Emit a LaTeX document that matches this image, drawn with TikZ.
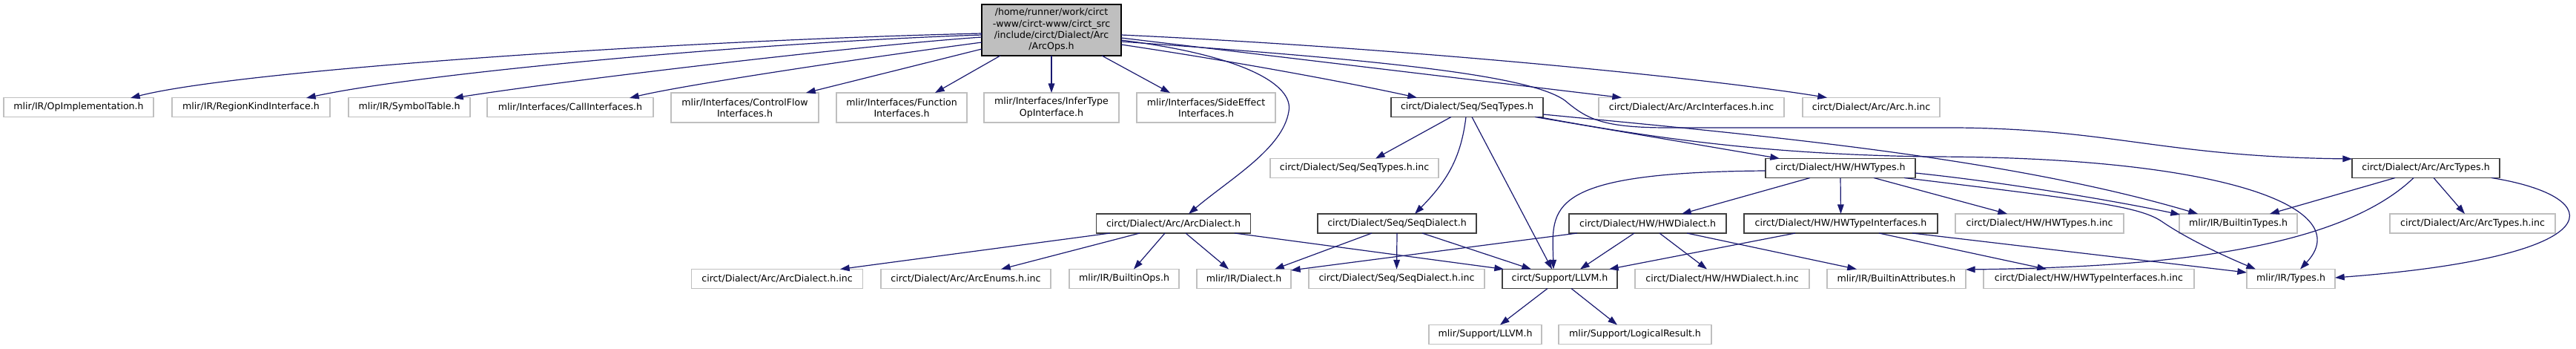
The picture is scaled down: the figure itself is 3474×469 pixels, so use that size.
\documentclass[tikz,border=0pt]{standalone}
\usepackage{fontspec}
\usetikzlibrary{arrows.meta,calc}
\newfontfamily\djfont{DejaVu Sans}
\definecolor{edgec}{HTML}{191970}
\definecolor{greyL}{HTML}{BFBFBF}
\definecolor{greyD}{HTML}{404040}
\tikzset{
  base/.style={draw, rectangle, inner sep=0pt, outer sep=0pt, line width=0.9pt,
    font=\djfont\fontsize{9.45}{11.5}\selectfont, align=center, minimum height=19.5pt},
  undoc/.style={base, draw=greyL, fill=white},
  docn/.style={base, draw=greyD, fill=white},
  mainnode/.style={base, draw=black, fill=greyL},
  bw/.style={minimum width=#1*0.75pt},
  bh/.style={minimum height=#1*0.75pt},
  dep/.style={draw=edgec, line width=0.9pt, -{Triangle[length=9.5pt,width=6.5pt]}},
}
\begin{document}
\begin{tikzpicture}[x=0.75pt,y=-0.75pt]
\useasboundingbox (0,0) rectangle (3474,469);
% main
\node[mainnode,bw=188,bh=69] (main) at (1418,40.5) {/home/runner/work/circt\\-www/circt-www/circt\_src\\/include/circt/Dialect/Arc\\/ArcOps.h};
% row 2
\node[undoc,bw=202] (opimpl) at (106,144.5) {mlir/IR/OpImplementation.h};
\node[undoc,bw=213] (regkind) at (338.5,144.5) {mlir/IR/RegionKindInterface.h};
\node[undoc,bw=164] (symtab) at (552,144.5) {mlir/IR/SymbolTable.h};
\node[undoc,bw=224] (callif) at (769,144.5) {mlir/Interfaces/CallInterfaces.h};
\node[undoc,bw=199,bh=40] (cflow) at (1004.5,145) {mlir/Interfaces/ControlFlow\\Interfaces.h};
\node[undoc,bw=176,bh=40] (funcif) at (1216,145) {mlir/Interfaces/Function\\Interfaces.h};
\node[undoc,bw=182,bh=40] (infer) at (1418,145) {mlir/Interfaces/InferType\\OpInterface.h};
\node[undoc,bw=187,bh=40] (sideeff) at (1626.5,145) {mlir/Interfaces/SideEffect\\Interfaces.h};
\node[docn,bw=205] (seqtypes) at (1978.5,144.5) {circt/Dialect/Seq/SeqTypes.h};
\node[undoc,bw=250] (arcintf) at (2281,144.5) {circt/Dialect/Arc/ArcInterfaces.h.inc};
\node[undoc,bw=185] (archinc) at (2523.5,144.5) {circt/Dialect/Arc/Arc.h.inc};
% row 3
\node[undoc,bw=227] (seqtinc) at (1826.5,226.5) {circt/Dialect/Seq/SeqTypes.h.inc};
\node[docn,bw=202] (hwtypes) at (2482,226.5) {circt/Dialect/HW/HWTypes.h};
\node[docn,bw=199] (arctypes) at (3271.5,226.5) {circt/Dialect/Arc/ArcTypes.h};
% row 4
\node[docn,bw=208] (arcdial) at (1582.5,301) {circt/Dialect/Arc/ArcDialect.h};
\node[docn,bw=214] (seqdial) at (1884,301) {circt/Dialect/Seq/SeqDialect.h};
\node[docn,bw=212] (hwdial) at (2222,301) {circt/Dialect/HW/HWDialect.h};
\node[docn,bw=261] (hwtif) at (2482.5,301) {circt/Dialect/HW/HWTypeInterfaces.h};
\node[undoc,bw=227] (hwtinc) at (2750.5,301) {circt/Dialect/HW/HWTypes.h.inc};
\node[undoc,bw=159] (btypes) at (3018.5,301) {mlir/IR/BuiltinTypes.h};
\node[undoc,bw=223] (arctinc) at (3334.5,301) {circt/Dialect/Arc/ArcTypes.h.inc};
% row 5
\node[undoc,bw=231] (arcdinc) at (1048,375.5) {circt/Dialect/Arc/ArcDialect.h.inc};
\node[undoc,bw=229] (arcenum) at (1302.5,375.5) {circt/Dialect/Arc/ArcEnums.h.inc};
\node[undoc,bw=148] (bops) at (1516,375.5) {mlir/IR/BuiltinOps.h};
\node[undoc,bw=127] (dialect) at (1677.5,375.5) {mlir/IR/Dialect.h};
\node[undoc,bw=237] (seqdinc) at (1883.5,375.5) {circt/Dialect/Seq/SeqDialect.h.inc};
\node[docn,bw=155] (cllvm) at (2103.5,375.5) {circt/Support/LLVM.h};
\node[undoc,bw=235] (hwdinc) at (2322.5,375.5) {circt/Dialect/HW/HWDialect.h.inc};
\node[undoc,bw=187] (battr) at (2557.5,375.5) {mlir/IR/BuiltinAttributes.h};
\node[undoc,bw=284] (hwtiinc) at (2817,375.5) {circt/Dialect/HW/HWTypeInterfaces.h.inc};
\node[undoc,bw=119] (types) at (3089.5,375.5) {mlir/IR/Types.h};
% row 6
\node[undoc,bw=152] (mllvm) at (2003,450.5) {mlir/Support/LLVM.h};
\node[undoc,bw=206] (logres) at (2205,450.5) {mlir/Support/LogicalResult.h};

% edges from main
\draw[dep] ($(main)+(-94,4.5)$) .. controls (900,55) and (320,95) .. ($(opimpl)+(70,-12.5)$);
\draw[dep] ($(main)+(-94,6.5)$) .. controls (1000,58) and (560,100) .. ($(regkind)+(74.5,-12.5)$);
\draw[dep] ($(main)+(-94,9.5)$) .. controls (1150,62) and (750,110) .. ($(symtab)+(60,-12.5)$);
\draw[dep] ($(main)+(-94,16.5)$) .. controls (1150,80) and (920,115) .. ($(callif)+(80,-12.5)$);
\draw[dep] ($(main)+(-94,25.5)$) -- ($(cflow)+(82.5,-20)$);
\draw[dep] ($(main)+(-69,34.5)$) -- ($(funcif)+(45,-20)$);
\draw[dep] (main.south) -- (infer.north);
\draw[dep] ($(main)+(68,34.5)$) -- ($(sideeff)+(-48.5,-20)$);
\draw[dep] ($(main)+(94,19.5)$) .. controls (1700,88) and (1850,118) .. ($(seqtypes)+(-67.5,-13)$);
\draw[dep] ($(main)+(94,13.5)$) .. controls (1680,75) and (1745,115) .. (1738,150) .. controls (1730,200) and (1660,240) .. ($(arcdial)+(20.5,-13)$);
\draw[dep] ($(main)+(94,10.5)$) -- ($(arcintf)+(-94,-13)$);
\draw[dep] ($(main)+(94,6.5)$) .. controls (1900,65) and (2300,105) .. ($(archinc)+(-59.5,-13)$);
\draw[dep] ($(main)+(94,15.5)$) .. controls (1850,80) and (2060,100) .. (2110,135) .. controls (2140,160) and (2160,172) .. (2250,172) -- (2640,172) .. controls (2850,174) and (2920,211) .. ($(arctypes)+(-99.5,-12.5)$);

% SeqTypes
\draw[dep] ($(seqtypes)+(-21.5,13)$) -- ($(seqtinc)+(28.5,-13)$);
\draw[dep] ($(seqtypes)+(-1.5,13)$) .. controls (1970,215) and (1950,245) .. ($(seqdial)+(24,-13)$);
\draw[dep] ($(seqtypes)+(6.5,13)$) -- ($(cllvm)+(-10.5,-13)$);
\draw[dep] ($(seqtypes)+(91.5,13)$) -- ($(hwtypes)+(-82,-13)$);
\draw[dep] ($(seqtypes)+(96.5,13)$) .. controls (2250,190) and (2400,208) .. (2600,211) .. controls (3000,211) and (3180,280) .. ($(types)+(12.5,-13)$);
\draw[dep] ($(seqtypes)+(102.5,9.5)$) .. controls (2350,180) and (2700,210) .. ($(btypes)+(-54.5,-13)$);

% HWTypes
\draw[dep] ($(hwtypes)+(-41,13)$) -- ($(hwdial)+(46,-13)$);
\draw[dep] (hwtypes.south) -- (hwtif.north);
\draw[dep] ($(hwtypes)+(45,13)$) -- ($(hwtinc)+(-43.5,-13)$);
\draw[dep] ($(hwtypes)+(101,6.5)$) .. controls (2700,245) and (2850,270) .. ($(btypes)+(-78.5,-12)$);
\draw[dep] ($(hwtypes)+(86,13)$) .. controls (2820,270) and (2885,278) .. (2915,298) .. controls (2950,322) and (3000,345) .. ($(types)+(-47.5,-13)$);
\draw[dep] ($(hwtypes)+(-101,3.5)$) .. controls (2080,232) and (2093,280) .. ($(cllvm)+(-8.5,-13)$);

% ArcTypes
\draw[dep] ($(arctypes)+(-41.5,13)$) -- ($(btypes)+(42.5,-13)$);
\draw[dep] ($(arctypes)+(10.5,13)$) -- ($(arctinc)+(-10.5,-13)$);
\draw[dep] ($(arctypes)+(88.5,13)$) .. controls (3520,265) and (3530,345) .. ($(types)+(59.5,-1.5)$);
\draw[dep] ($(arctypes)+(-16.5,13)$) .. controls (3150,340) and (2900,360) .. ($(battr)+(93.5,-12.5)$);

% ArcDialect
\draw[dep] ($(arcdial)+(-85.5,13)$) -- ($(arcdinc)+(85,-13)$);
\draw[dep] ($(arcdial)+(-45.5,13)$) -- ($(arcenum)+(47.5,-13)$);
\draw[dep] ($(arcdial)+(-11.5,13)$) -- ($(bops)+(13,-13)$);
\draw[dep] ($(arcdial)+(16.5,13)$) -- ($(dialect)+(-20.5,-13)$);
\draw[dep] ($(arcdial)+(82.5,13)$) -- ($(cllvm)+(-75.5,-13)$);

% SeqDialect
\draw[dep] ($(seqdial)+(-34,13)$) -- ($(dialect)+(41.5,-13)$);
\draw[dep] (seqdial.south) -- (seqdinc.north);
\draw[dep] ($(seqdial)+(34,13)$) -- ($(cllvm)+(-38.5,-13)$);

% HWDialect
\draw[dep] ($(hwdial)+(-95,13)$) -- ($(dialect)+(63.5,-11.5)$);
\draw[dep] ($(hwdial)+(-18,13)$) -- ($(cllvm)+(27.5,-13)$);
\draw[dep] ($(hwdial)+(16,13)$) -- ($(hwdinc)+(-20.5,-13)$);
\draw[dep] ($(hwdial)+(53,13)$) -- ($(battr)+(-53.5,-13)$);

% HWTypeInterfaces
\draw[dep] ($(hwtif)+(-61.5,13)$) -- ($(cllvm)+(66.5,-13)$);
\draw[dep] ($(hwtif)+(51.5,13)$) -- ($(hwtiinc)+(-57,-13)$);
\draw[dep] ($(hwtif)+(96.5,13)$) -- ($(types)+(-59.5,-8.5)$);

% circt LLVM
\draw[dep] ($(cllvm)+(-16.5,13)$) -- ($(mllvm)+(20,-13)$);
\draw[dep] ($(cllvm)+(15.5,13)$) -- ($(logres)+(-24,-13)$);
\end{tikzpicture}
\end{document}
